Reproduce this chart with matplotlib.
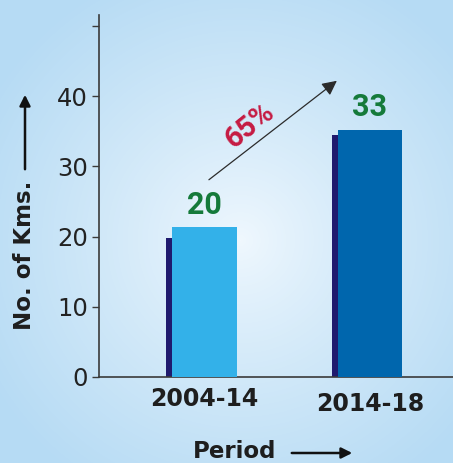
import numpy as np
import matplotlib
matplotlib.use("Agg")
import matplotlib.pyplot as plt
import matplotlib.transforms as mtransforms
import matplotlib.patches as mpatches

# ---- data ----
periods = ["2004-14", "2014-18"]
value_labels = [20, 33]
bar_heights = [21.4, 35.2]      # drawn height of front bars
shadow_heights = [19.8, 34.5]   # drawn height of back (shadow) bars
growth_label = "65%"
yticks = [0, 10, 20, 30, 40, 50]
ytick_labels = ["0", "10", "20", "30", "40", ""]

cond_family = ["Roboto", "DejaVu Sans"]

W, H, DPI = 453, 463, 100
fig = plt.figure(figsize=(W / DPI, H / DPI), dpi=DPI)

# radial gradient background
bg = fig.add_axes([0, 0, 1, 1], zorder=-10)
yy, xx = np.mgrid[0:H, 0:W]
r = np.sqrt(((xx - 240) / 290.0) ** 2 + ((yy - 240) / 290.0) ** 2)
r = np.clip(r, 0, 1) ** 0.85
c_in = np.array([0xf0, 0xf8, 0xfe]) / 255.0
c_out = np.array([0xb6, 0xdb, 0xf4]) / 255.0
img = c_in[None, None, :] * (1 - r[..., None]) + c_out[None, None, :] * r[..., None]
bg.imshow(img, aspect="auto", extent=[0, 1, 0, 1])
bg.set_axis_off()

ax = fig.add_axes([99 / W, 1 - 377 / H, 1 - 99 / W, (377 - 15) / H])
ax.patch.set_alpha(0)

x = np.arange(len(periods))
width = 0.39
off = 0.036
front_colors = ["#33b1e9", "#0066ad"]
shadow_color = "#1f1a6e"

ax.bar(x - off, shadow_heights, width=width, color=shadow_color, zorder=2)
ax.bar(x, bar_heights, width=width, color=front_colors, zorder=3)

ax.set_xlim(-0.637, 1.5015)
ax.set_ylim(0, 51.57)

for s in ["top", "right"]:
    ax.spines[s].set_visible(False)
for s in ["left", "bottom"]:
    ax.spines[s].set_color("#3a3a3a")
    ax.spines[s].set_linewidth(1.2)

ax.set_yticks(yticks)
ax.set_yticklabels(ytick_labels, fontsize=17.5, color="#222222")
ax.tick_params(axis="y", direction="out", length=5, width=1, color="#3a3a3a", pad=3)
ax.set_xticks(x)
ax.set_xticklabels(periods, fontsize=17, fontweight="bold", color="#1e1e1e")
ax.tick_params(axis="x", length=0, pad=7)
lbls = ax.get_xticklabels()
lbls[1].set_transform(lbls[1].get_transform() +
                      mtransforms.ScaledTranslation(0, -5 / DPI, fig.dpi_scale_trans))

# value labels
label_y = [24.5, 38.5]
for xi, v, ly in zip(x, value_labels, label_y):
    ax.text(xi, ly, str(v), ha="center", va="center", fontsize=22,
            fontweight="bold", family=cond_family,
            color="#157a3a", zorder=5)

# growth arrow
ax.annotate("", xy=(0.80, 42.2), xytext=(0.027, 28.1),
            arrowprops=dict(arrowstyle="-|>", color="#2b2b2b", lw=0.9,
                            mutation_scale=22, shrinkA=0, shrinkB=0))
ax.text(0.272, 35.8, growth_label, rotation=39, ha="center", va="center",
        fontsize=21, fontweight="bold", family=cond_family,
        color="#c51a42", rotation_mode="anchor")

# axis titles with arrows
fig.text(25 / W, 1 - 255 / H, "No. of Kms.", rotation=90, ha="center", va="center",
         fontsize=16.5, fontweight="bold", color="#1e1e1e")
fig.add_artist(mpatches.FancyArrowPatch(
    (25 / W, 1 - 172 / H), (25 / W, 1 - 92 / H), transform=fig.transFigure,
    arrowstyle="-|>", mutation_scale=16, lw=1.8, color="#111111"))
fig.text(235 / W, 1 - 452 / H, "Period", ha="center", va="center",
         fontsize=16.5, fontweight="bold", color="#1e1e1e")
fig.add_artist(mpatches.FancyArrowPatch(
    (289 / W, 1 - 453 / H), (355 / W, 1 - 453 / H), transform=fig.transFigure,
    arrowstyle="-|>", mutation_scale=16, lw=1.8, color="#111111"))

fig.savefig("out.png", dpi=DPI)
